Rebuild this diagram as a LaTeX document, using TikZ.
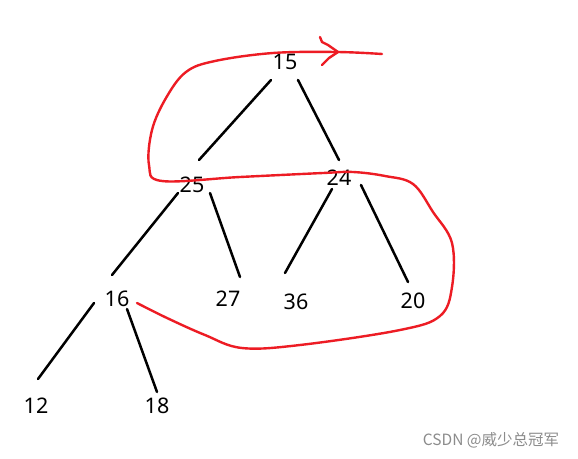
\documentclass[tikz,border=0pt]{standalone}
\usepackage{fontspec}
\setmainfont{Noto Sans}
\newfontfamily\cjk{Noto Sans CJK SC}
\usetikzlibrary{calc}
\definecolor{penred}{RGB}{237,28,36}
\tikzset{
  num/.style={font=\fontsize{21.5}{21.5}\selectfont, inner sep=0pt, text=black},
  edge/.style={draw=black, line width=2.5pt, line cap=round},
  path red/.style={draw=penred, line width=2.4pt, line cap=round, line join=round},
  mark text/.style={font=\cjk\fontsize{15.5}{15.5}\selectfont, text=black!45, inner sep=0pt}
}
\begin{document}
\begin{tikzpicture}[x=1pt,y=-1pt]
\useasboundingbox (0,0) rectangle (578,458);
\fill[white] (0,0) rectangle (578,458);
% nodes
\node[num] (n15) at (285,62) {15};
\node[num] (n25) at (192,185) {25};
\node[num] (n24) at (339,178) {24};
\node[num] (n16) at (117,299) {16};
\node[num] (n27) at (228,299) {27};
\node[num] (n36) at (296,302) {36};
\node[num] (n20) at (413,301) {20};
\node[num] (n12) at (36,406) {12};
\node[num] (n18) at (157,406) {18};
% edge endpoints
\coordinate (a1) at (271,80);  \coordinate (b1) at (199,160);
\coordinate (a2) at (298,80);  \coordinate (b2) at (339,160);
\coordinate (a3) at (178,193); \coordinate (b3) at (112,275);
\coordinate (a4) at (210,193); \coordinate (b4) at (240,277);
\coordinate (a5) at (332,189); \coordinate (b5) at (285,273);
\coordinate (a6) at (361,185); \coordinate (b6) at (408,282);
\coordinate (a7) at (94,303);  \coordinate (b7) at (38,379);
\coordinate (a8) at (127,309); \coordinate (b8) at (157,392);
\foreach \i in {1,...,8} \draw[edge] (a\i) -- (b\i);
% red traversal curve
\coordinate (rs) at (382,54);
\coordinate (re) at (137,303);
\draw[path red] plot[smooth, tension=0.6] coordinates {
 (382,54) (337,52) (273,53) (215,61) (186,72) (166,98) (152,130) (149,165) (162,181)
 (240,177) (323,173) (353,172) (385,176) (413,184) (433,212) (452,243) (452,287)
 (440,316) (400,330) (300,345) (242,348) (205,335) (167,318) (137,303)};
% arrow head
\coordinate (ah) at (338,52);
\draw[path red] (320,37) -- (322,42) -- (328,45) -- (ah) -- (329,58) -- (322,65);
% watermark
\node[mark text] (wm) at (491,440) {CSDN @威少总冠军};
\end{tikzpicture}
\end{document}
